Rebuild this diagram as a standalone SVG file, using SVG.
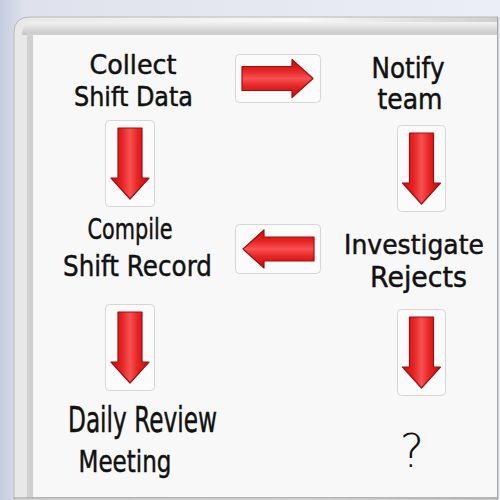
<svg xmlns="http://www.w3.org/2000/svg" width="500" height="500" viewBox="0 0 500 500">
<defs>
<style>
.t{font-family:"DejaVu Sans","Liberation Sans",sans-serif;font-size:29px;fill:#111;stroke:#111;stroke-width:0.5;text-anchor:middle}
.tile{fill:#fbfbfb;stroke:#d6d6d6;stroke-width:1}
.arr{fill:url(#red);stroke:#a30d0d;stroke-width:1.2;stroke-linejoin:round}
</style>
<linearGradient id="bg" x1="0" y1="0" x2="1" y2="0">
<stop offset="0" stop-color="#c5cce0"/><stop offset="0.05" stop-color="#dfe2ec"/><stop offset="1" stop-color="#eceef5"/>
</linearGradient>
<linearGradient id="frameTop" x1="0" y1="0" x2="0" y2="1">
<stop offset="0" stop-color="#f2f2f2"/><stop offset="0.5" stop-color="#dcdcdc"/><stop offset="1" stop-color="#c4c4c4"/>
</linearGradient>
<linearGradient id="frameLeft" x1="0" y1="0" x2="1" y2="0">
<stop offset="0" stop-color="#e8e8e8"/><stop offset="0.6" stop-color="#f8f8f8"/><stop offset="1" stop-color="#cfcfcf"/>
</linearGradient>
<linearGradient id="red" x1="0" y1="0" x2="1" y2="0">
<stop offset="0" stop-color="#c01010"/><stop offset="0.3" stop-color="#e82424"/><stop offset="0.5" stop-color="#f65252"/><stop offset="0.7" stop-color="#e82424"/><stop offset="1" stop-color="#b80c0c"/>
</linearGradient>
<path id="down" d="M-12,0 H12 V50 H19 L0,71 L-19,50 H-12 Z"/>
</defs>
<rect width="500" height="500" fill="url(#bg)"/>
<!-- board frame -->
<path d="M14,500 V33 Q14,17 30,17 H498 V500 Z" fill="url(#frameLeft)" stroke="#b8b8b8" stroke-width="1"/>
<path d="M22,35 Q22,22 34,22 H498 V35 Z" fill="url(#frameTop)"/>
<rect x="27" y="33" width="471" height="465" fill="#d0d0d0"/>
<rect x="33" y="35" width="464" height="462" fill="#f8f8f8"/>
<line x1="14" y1="498" x2="498" y2="498" stroke="#9a9a9a" stroke-width="1"/>
<line x1="497.5" y1="17" x2="497.5" y2="498" stroke="#a8a8a8" stroke-width="1"/>

<g id="connectors">
<g id="c1"><rect class="tile" x="235.5" y="54.5" width="85" height="48" rx="4"/><use href="#down" class="arr" transform="translate(242,78.5) rotate(-90)"/></g>
<g id="c2"><rect class="tile" x="105.5" y="120.5" width="49" height="86" rx="4"/><use href="#down" class="arr" transform="translate(130,128)"/></g>
<g id="c3"><rect class="tile" x="397.5" y="125.5" width="48" height="86" rx="4"/><use href="#down" class="arr" transform="translate(421.5,133)"/></g>
<g id="c4"><rect class="tile" x="235.5" y="224.5" width="85" height="49" rx="4"/><use href="#down" class="arr" transform="translate(314,249) rotate(90)"/></g>
<g id="c5"><rect class="tile" x="105.5" y="304.5" width="49" height="86" rx="4"/><use href="#down" class="arr" transform="translate(130,312)"/></g>
<g id="c6"><rect class="tile" x="397.5" y="309.5" width="48" height="86" rx="4"/><use href="#down" class="arr" transform="translate(421.5,317)"/></g>
</g>

<g id="n1"><text class="t" x="133" y="74" textLength="87" lengthAdjust="spacingAndGlyphs" style="font-size:27px">Collect</text><text class="t" x="133.5" y="106" textLength="119" lengthAdjust="spacingAndGlyphs" style="font-size:27px">Shift Data</text></g>
<g id="n2"><text class="t" x="408" y="78" textLength="73" lengthAdjust="spacingAndGlyphs">Notify</text><text class="t" x="410" y="109" textLength="65" lengthAdjust="spacingAndGlyphs">team</text></g>
<g id="n3"><text class="t" x="130" y="239" textLength="85" lengthAdjust="spacingAndGlyphs">Compile</text><text class="t" x="137.5" y="276" textLength="149" lengthAdjust="spacingAndGlyphs">Shift Record</text></g>
<g id="n4"><text class="t" x="414" y="254" textLength="140" lengthAdjust="spacingAndGlyphs" style="font-size:27px">Investigate</text><text class="t" x="418.5" y="287" textLength="97" lengthAdjust="spacingAndGlyphs">Rejects</text></g>
<g id="n5"><text class="t" x="142.5" y="432" textLength="149" lengthAdjust="spacingAndGlyphs" style="font-size:36px">Daily Review</text><text class="t" x="125" y="472" textLength="93" lengthAdjust="spacingAndGlyphs" style="font-size:31px">Meeting</text></g>
<g id="n6"><text class="t" x="412" y="467" style="font-size:46px;font-weight:200;stroke-width:0">?</text></g>
</svg>
